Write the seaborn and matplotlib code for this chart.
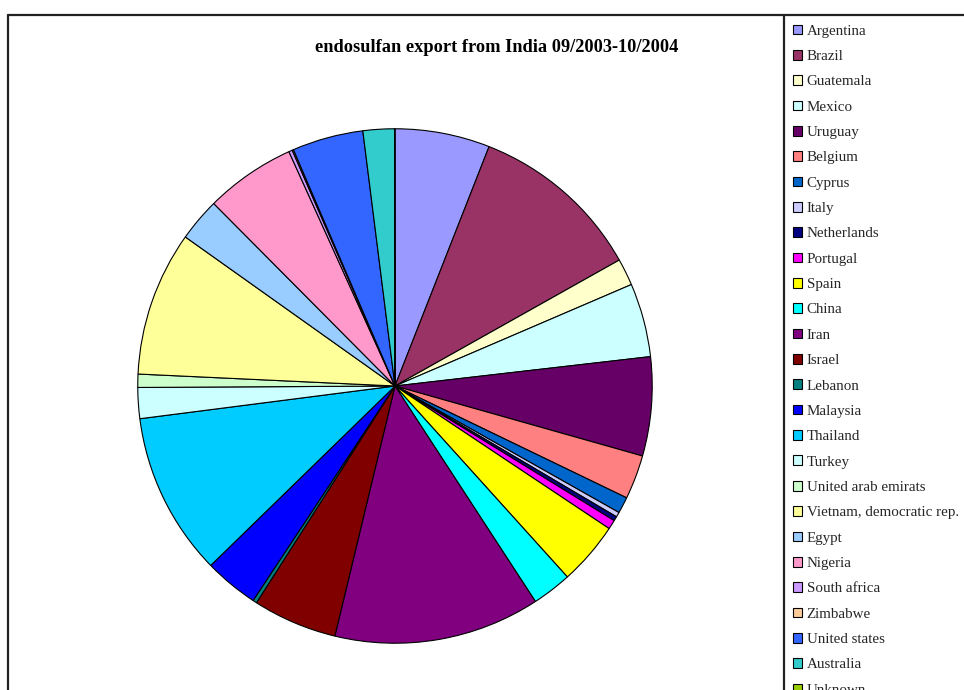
import matplotlib
matplotlib.use("Agg")
import matplotlib.pyplot as plt
import seaborn as sns
from matplotlib.patches import Patch
from matplotlib.lines import Line2D

countries = ["Argentina", "Brazil", "Guatemala", "Mexico", "Uruguay", "Belgium",
             "Cyprus", "Italy", "Netherlands", "Portugal", "Spain", "China", "Iran",
             "Israel", "Lebanon", "Malaysia", "Thailand", "Turkey",
             "United arab emirats", "Vietnam, democratic rep.", "Egypt", "Nigeria",
             "South africa", "Zimbabwe", "United states", "Australia", "Unknown"]
shares = [21.5, 39.3, 6.1, 16.7, 22.4, 10.0, 3.7, 1.1, 1.0, 2.1, 14.3, 9.0, 46.7,
          19.1, 0.9, 12.3, 37.0, 7.0, 3.0, 32.8, 9.8, 20.5, 0.8, 0.3, 16.1, 7.1, 0.1]
colors = ["#9999FF", "#993366", "#FFFFCC", "#CCFFFF", "#660066", "#FF8080",
          "#0066CC", "#CCCCFF", "#000080", "#FF00FF", "#FFFF00", "#00FFFF", "#800080",
          "#800000", "#008080", "#0000FF", "#00CCFF", "#CCFFFF", "#CCFFCC",
          "#FFFF99", "#99CCFF", "#FF99CC", "#CC99FF", "#FFCC99", "#3366FF",
          "#33CCCC", "#99CC00"]
title = "endosulfan export from India 09/2003-10/2004"

sns.set_theme(style="white")
plt.rcParams["font.family"] = ["Liberation Serif", "DejaVu Serif"]

W, H = 964, 690
fig = plt.figure(figsize=(W / 100, H / 100), dpi=100)
fig.patch.set_facecolor("white")

cx, cy, r = 395, 386, 258
ax = fig.add_axes([(cx - r) / W, (H - cy - r) / H, 2 * r / W, 2 * r / H])
ax.pie(shares, colors=colors, startangle=90, counterclock=False, radius=1,
       wedgeprops=dict(edgecolor="black", linewidth=0.8))
ax.set_xlim(-1.003, 1.003)
ax.set_ylim(-1.003, 1.003)
ax.set_aspect("equal")
ax.axis("off")

fig.text(497 / W, 1 - 48 / H, title, ha="center", va="center",
         fontsize=13.2, fontweight="bold", color="black")

# frame lines
def px_line(x0, y0, x1, y1):
    fig.add_artist(Line2D([x0 / W, x1 / W], [1 - y0 / H, 1 - y1 / H],
                          transform=fig.transFigure, color="#222222", linewidth=1.6))

px_line(8, 15, W + 5, 15)
px_line(8, 15, 8, H + 5)
px_line(784, 15, 784, H + 5)

handles = [Patch(facecolor=c, edgecolor="black", linewidth=0.8) for c in colors]
leg = fig.legend(handles, countries, loc="upper left",
                 bbox_to_anchor=(793 / W, 1 - 24.5 / H), frameon=False,
                 fontsize=10.8, handlelength=0.62, handleheight=0.62,
                 handletextpad=0.3, labelspacing=0.814, borderpad=0,
                 borderaxespad=0)

fig.savefig("out.png", dpi=100)
